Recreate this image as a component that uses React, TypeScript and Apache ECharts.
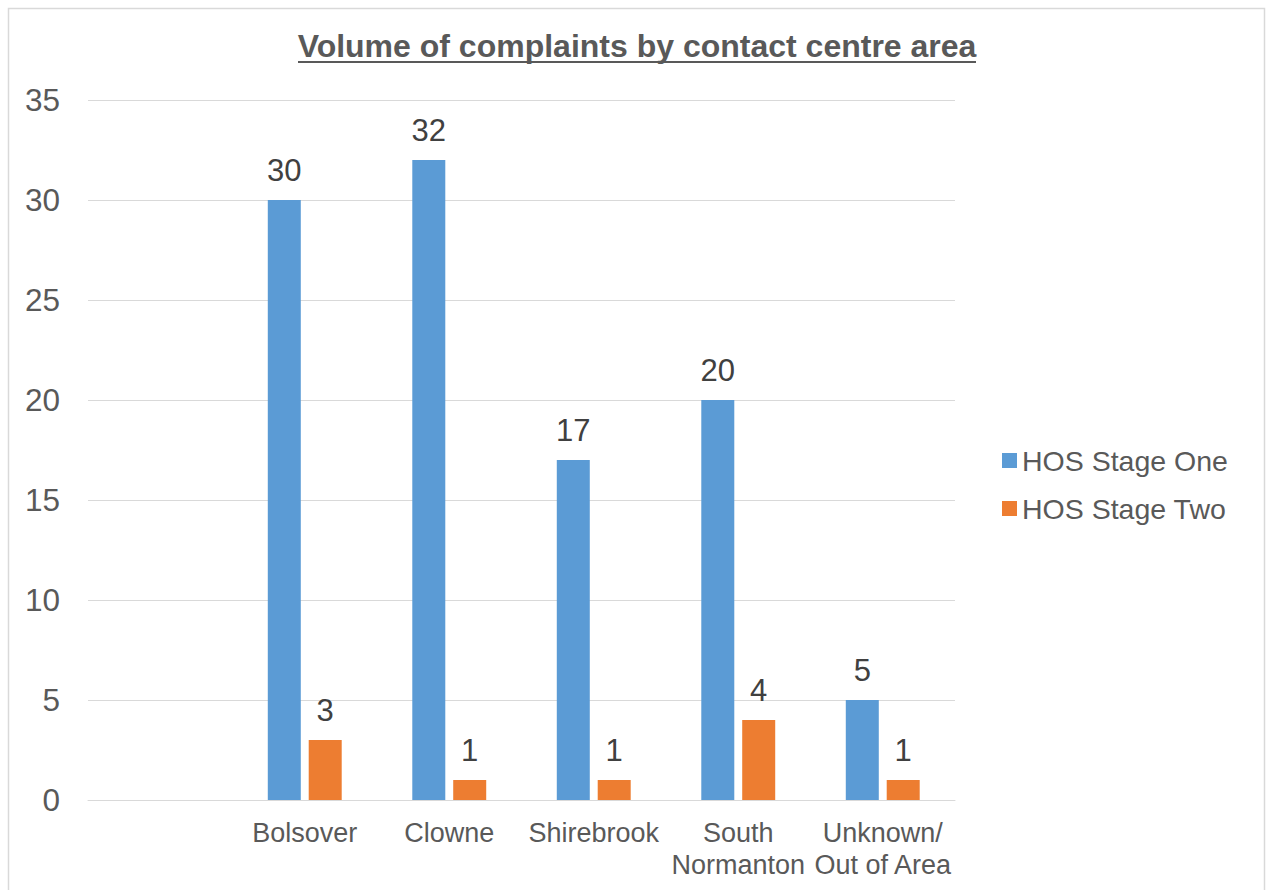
import React, { useEffect, useRef } from "react";
import * as echarts from "echarts";

const categories = ["", "Bolsover", "Clowne", "Shirebrook", "South\nNormanton", "Unknown/\nOut of Area"];
const stageOne = ["-", 30, 32, 17, 20, 5];
const stageTwo = ["-", 3, 1, 1, 4, 1];
const seriesNames = ["HOS Stage One", "HOS Stage Two"];
const titleText = "Volume of complaints by contact centre area";

const FONT = "'Liberation Sans', Arial, Helvetica, sans-serif";

export default function App() {
  const ref = useRef<HTMLDivElement>(null);
  useEffect(() => {
    if (!ref.current) return;
    const chart = echarts.init(ref.current, undefined, { renderer: "svg" });
    const labelStyle = {
      show: true,
      position: "top" as const,
      distance: 14,
      color: "#404040",
      fontSize: 31,
      lineHeight: 32,
      fontFamily: FONT,
    };
    chart.setOption({
      animation: false,
      backgroundColor: "#ffffff",
      textStyle: { fontFamily: FONT },
      graphic: [
        {
          type: "rect",
          shape: { x: 8.5, y: 8.5, width: 1256, height: 900 },
          style: { fill: "none", stroke: "#d9d9d9", lineWidth: 1.5 },
          silent: true,
        },
        {
          type: "text",
          x: 637,
          y: 46,
          style: {
            text: titleText,
            fill: "#595959",
            font: `bold 32px ${FONT}`,
            textAlign: "center",
            textVerticalAlign: "middle",
          },
        },
        {
          type: "line",
          shape: { x1: 298, y1: 62, x2: 976, y2: 62 },
          style: { stroke: "#595959", lineWidth: 2 },
        },
      ],
      legend: {
        orient: "vertical",
        left: 997,
        top: 441,
        itemWidth: 15,
        itemHeight: 15,
        itemGap: 19,
        icon: "rect",
        textStyle: { color: "#595959", fontSize: 28.5, lineHeight: 28, fontFamily: FONT },
        data: seriesNames,
      },
      grid: { left: 88, right: 311, top: 100, bottom: 90, containLabel: false },
      xAxis: {
        type: "category",
        data: categories,
        axisLine: { show: true, lineStyle: { color: "#d9d9d9", width: 1 } },
        axisTick: { show: false },
        axisLabel: {
          interval: 0,
          margin: 17,
          color: "#595959",
          fontSize: 27,
          lineHeight: 32,
          fontFamily: FONT,
        },
      },
      yAxis: {
        type: "value",
        min: 0,
        max: 35,
        interval: 5,
        axisLine: { show: false },
        axisTick: { show: false },
        splitLine: { lineStyle: { color: "#d9d9d9", width: 1 } },
        axisLabel: { margin: 28, color: "#595959", fontSize: 31.5, fontFamily: FONT },
      },
      series: [
        {
          name: seriesNames[0],
          type: "bar",
          data: stageOne,
          barWidth: 33,
          barGap: "24%",
          itemStyle: { color: "#5b9bd5" },
          label: labelStyle,
        },
        {
          name: seriesNames[1],
          type: "bar",
          data: stageTwo,
          barWidth: 33,
          barGap: "24%",
          itemStyle: { color: "#ed7d31" },
          label: labelStyle,
        },
      ],
    });
    return () => chart.dispose();
  }, []);
  return (
    <div
      ref={ref}
      style={{ position: "absolute", left: 0, top: 0, width: 1266, height: 890 }}
    />
  );
}
